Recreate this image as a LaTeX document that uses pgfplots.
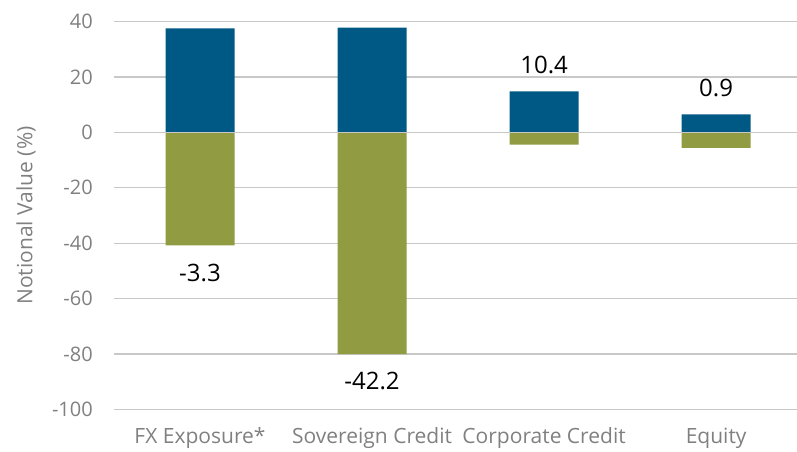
\documentclass[border=0pt]{standalone}
\usepackage{fontspec}
\setmainfont{Open Sans}
\usepackage{pgfplots}
\pgfplotsset{compat=1.18}
\definecolor{barblue}{RGB}{0,89,132}
\definecolor{bargreen}{RGB}{145,155,65}
\definecolor{gridgray}{RGB}{200,200,200}
\definecolor{labgray}{RGB}{128,128,128}
\begin{document}
\begin{tikzpicture}
\path[use as bounding box] (-114pt,-41.5pt) rectangle (683pt,409.5pt);
\begin{axis}[
  scale only axis,
  width=683pt, height=388pt,
  xmin=-0.5, xmax=3.47,
  ymin=-100, ymax=40,
  ytick={-100,-80,...,40},
  xtick={0,1,2,3},
  xticklabels={FX Exposure*, Sovereign Credit, Corporate Credit, Equity},
  axis line style={draw=none},
  major tick length=0pt,
  ymajorgrids,
  grid style={gridgray, line width=1.2pt},
  ybar, bar width=69pt, bar shift=0pt,
  /pgf/number format/assume math mode=true,
  tick label style={text=labgray},
  yticklabel style={font=\fontsize{20}{24}\selectfont, anchor=east, inner sep=0pt, xshift=-21pt},
  xticklabel style={font=\fontsize{21}{25}\selectfont, anchor=north, inner sep=0pt, yshift=-18pt},
  ylabel={Notional Value (\%)},
  every axis y label/.style={at={(rel axis cs:0,0.5)}, xshift=-88pt, rotate=90, anchor=center, font=\fontsize{21}{25}\selectfont, text=labgray},
  clip=false,
]
\addplot[fill=barblue, draw=none] coordinates {(0,37.5) (1,37.8) (2,14.8) (3,6.5)};
\addplot[fill=bargreen, draw=none] coordinates {(0,-40.8) (1,-80.0) (2,-4.4) (3,-5.6)};
\draw[gridgray, line width=1.2pt] (axis cs:-0.5,0) -- (axis cs:3.47,0);
\node[font=\fontsize{24}{28}\selectfont] at (axis cs:0,-50.6) {-3.3};
\node[font=\fontsize{24}{28}\selectfont] at (axis cs:1,-89.7) {-42.2};
\node[font=\fontsize{24}{28}\selectfont] at (axis cs:2,24.2) {10.4};
\node[font=\fontsize{24}{28}\selectfont] at (axis cs:3,16) {0.9};
\end{axis}
\end{tikzpicture}
\end{document}
